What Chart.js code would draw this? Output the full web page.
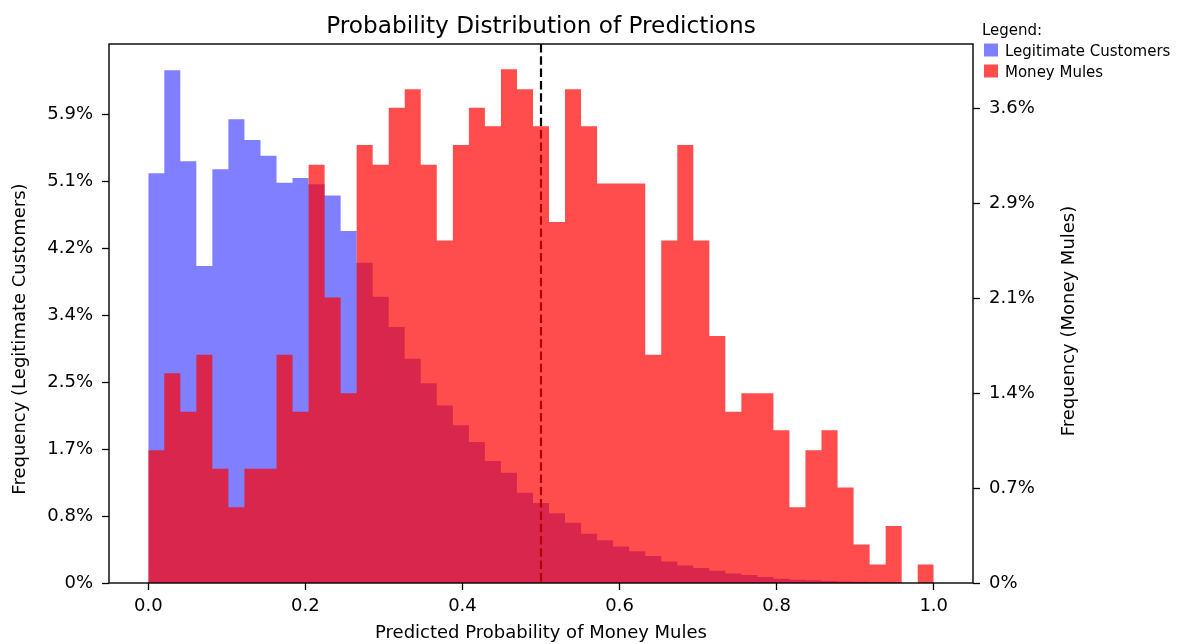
<!DOCTYPE html>
<html>
<head>
<meta charset="utf-8">
<title>Probability Distribution of Predictions</title>
<script src="https://cdn.jsdelivr.net/npm/chart.js@4.4.1/dist/chart.umd.min.js"></script>
<style>
  html, body { margin: 0; padding: 0; background: #fff; }
  #chart { display: block; }
</style>
</head>
<body>
<canvas id="chart" width="1180" height="644"></canvas>
<script>
'use strict';

// Bin edges of the histogram (49 bins between 0 and 1).
var binEdges = [
  0, 0.0204, 0.0408, 0.0612, 0.0816, 0.1020, 0.1224, 0.1429, 0.1633, 0.1837,
  0.2041, 0.2245, 0.2449, 0.2653, 0.2857, 0.3061, 0.3265, 0.3469, 0.3673, 0.3878,
  0.4082, 0.4286, 0.4490, 0.4694, 0.4898, 0.5102, 0.5306, 0.5510, 0.5714, 0.5918,
  0.6122, 0.6327, 0.6531, 0.6735, 0.6939, 0.7143, 0.7347, 0.7551, 0.7755, 0.7959,
  0.8163, 0.8367, 0.8571, 0.8776, 0.8980, 0.9184, 0.9388, 0.9592, 0.9796, 1.0
];

// Share of legitimate customers per bin, in percent (left axis).
var legitimateValues = [
  5.17, 6.47, 5.32, 4.00, 5.22, 5.85, 5.59, 5.39, 5.05, 5.11,
  5.03, 4.89, 4.44, 4.04, 3.61, 3.23, 2.83, 2.52, 2.24, 1.99,
  1.78, 1.54, 1.39, 1.14, 1.01, 0.88, 0.76, 0.62, 0.54, 0.46,
  0.40, 0.34, 0.27, 0.22, 0.19, 0.155, 0.12, 0.10, 0.075, 0.053,
  0.04, 0.035, 0.025, 0.02, 0.015, 0.01, 0.005, 0, 0
];

// Share of money mules per bin, in percent (right axis).
var muleValues = [
  1.00, 1.58, 1.29, 1.72, 0.86, 0.57, 0.86, 0.86, 1.72, 1.29,
  3.15, 2.15, 1.43, 3.30, 3.15, 3.58, 3.72, 3.15, 2.58, 3.30,
  3.58, 3.44, 3.87, 3.72, 3.44, 2.72, 3.72, 3.44, 3.01, 3.01,
  3.01, 1.72, 2.58, 3.30, 2.58, 1.86, 1.29, 1.43, 1.43, 1.15,
  0.57, 1.00, 1.15, 0.72, 0.29, 0.14, 0.43, 0, 0.14
];

var xTicks = [0, 0.2, 0.4, 0.6, 0.8, 1.0];
var legitimateTicks = [0, 0.845, 1.69, 2.535, 3.38, 4.225, 5.07, 5.915];
var legitimateTickLabels = ['0%', '0.8%', '1.7%', '2.5%', '3.4%', '4.2%', '5.1%', '5.9%'];
var muleTicks = [0, 0.715, 1.43, 2.145, 2.86, 3.575];
var muleTickLabels = ['0%', '0.7%', '1.4%', '2.1%', '2.9%', '3.6%'];
var threshold = 0.5;

var FONT = "'DejaVu Sans', sans-serif";
var BLUE = 'rgba(0, 0, 255, 0.5)';
var RED = 'rgba(255, 0, 0, 0.7)';


// One point per bin edge; the closing edge brings the last bin down to zero.
function toSteps(values) {
  return binEdges.map(function(x, i) {
    return {x: x, y: i < values.length ? values[i] : 0};
  });
}

function fixedTicks(values) {
  return function(scale) {
    scale.ticks = values.map(function(v) {
      return {value: v};
    });
  };
}

function axisGrid() {
  return {
    drawOnChartArea: false,
    drawTicks: true,
    tickLength: 7,
    tickWidth: 1.3,
    tickColor: '#000',
    color: '#000'
  };
}

function tickFont() {
  return {family: FONT, size: 18};
}

// Dashed threshold, drawn after the blue bins so the red bins cover it.
var thresholdPlugin = {
  id: 'threshold',
  afterDatasetDraw: function(chart, args) {
    if (args.index !== 0) {
      return;
    }
    var area = chart.chartArea;
    var x = chart.scales.x.getPixelForValue(threshold);
    var ctx = chart.ctx;

    ctx.save();
    ctx.strokeStyle = '#000';
    ctx.lineWidth = 2.2;
    ctx.setLineDash([8.5, 3.8]);
    ctx.beginPath();
    ctx.moveTo(x, area.top);
    ctx.lineTo(x, area.bottom);
    ctx.stroke();
    ctx.restore();
  }
};

var framePlugin = {
  id: 'frame',
  afterDatasetsDraw: function(chart) {
    var area = chart.chartArea;
    var ctx = chart.ctx;

    ctx.save();
    ctx.strokeStyle = '#000';
    ctx.lineWidth = 1.4;
    ctx.strokeRect(area.left, area.top, area.right - area.left, area.bottom - area.top);
    ctx.restore();
  }
};

// Title, axis titles and the legend box at the upper right.
var textPlugin = {
  id: 'texts',
  afterDraw: function(chart) {
    var area = chart.chartArea;
    var ctx = chart.ctx;
    var datasets = chart.data.datasets;

    ctx.save();
    ctx.fillStyle = '#000';
    ctx.textBaseline = 'alphabetic';

    ctx.textAlign = 'center';
    ctx.font = '23.2px ' + FONT;
    ctx.fillText('Probability Distribution of Predictions', (area.left + area.right) / 2, 32.7);

    ctx.font = '18px ' + FONT;
    ctx.fillText('Predicted Probability of Money Mules', (area.left + area.right) / 2, 638);

    ctx.save();
    ctx.translate(25, 339);
    ctx.rotate(-Math.PI / 2);
    ctx.fillText('Frequency (Legitimate Customers)', 0, 0);
    ctx.restore();

    ctx.save();
    ctx.translate(1074, 321);
    ctx.rotate(-Math.PI / 2);
    ctx.fillText('Frequency (Money Mules)', 0, 0);
    ctx.restore();

    ctx.textAlign = 'left';
    ctx.font = '15px ' + FONT;
    ctx.fillText('Legend:', 982, 34.5);

    datasets.forEach(function(dataset, i) {
      var centerY = 50 + i * 21;
      ctx.fillStyle = dataset.backgroundColor;
      ctx.fillRect(984, centerY - 6.5, 14, 13);
      ctx.fillStyle = '#000';
      ctx.fillText(dataset.label, 1005, centerY + 5.5);
    });

    ctx.restore();
  }
};

var chart = new Chart(document.getElementById('chart'), {
  type: 'line',
  data: {
    datasets: [
      {
        label: 'Legitimate Customers',
        data: toSteps(legitimateValues),
        yAxisID: 'y',
        backgroundColor: BLUE,
        borderColor: 'rgba(0, 0, 0, 0)',
        borderWidth: 0,
        stepped: true,
        fill: 'origin',
        pointRadius: 0,
        order: 2
      },
      {
        label: 'Money Mules',
        data: toSteps(muleValues),
        yAxisID: 'y1',
        backgroundColor: RED,
        borderColor: 'rgba(0, 0, 0, 0)',
        borderWidth: 0,
        stepped: true,
        fill: 'origin',
        pointRadius: 0,
        order: 1
      }
    ]
  },
  options: {
    responsive: false,
    animation: false,
    devicePixelRatio: 1,
    layout: {padding: {top: 44, left: 0, right: 0, bottom: 0}},
    plugins: {
      legend: {display: false},
      title: {display: false},
      tooltip: {enabled: false}
    },
    scales: {
      x: {
        type: 'linear',
        min: -0.05,
        max: 1.05,
        afterBuildTicks: fixedTicks(xTicks),
        afterFit: function(scale) {
          scale.height = 61;
        },
        grid: axisGrid(),
        border: {display: false},
        ticks: {
          font: tickFont(),
          color: '#000',
          padding: 6,
          autoSkip: false,
          maxRotation: 0,
          callback: function(value) {
            return value.toFixed(1);
          }
        }
      },
      y: {
        type: 'linear',
        position: 'left',
        min: 0,
        max: 6.80,
        afterBuildTicks: fixedTicks(legitimateTicks),
        afterFit: function(scale) {
          scale.width = 109;
        },
        grid: axisGrid(),
        border: {display: false},
        ticks: {
          font: tickFont(),
          color: '#000',
          padding: 9,
          autoSkip: false,
          callback: function(value, index) {
            return legitimateTickLabels[index];
          }
        }
      },
      y1: {
        type: 'linear',
        position: 'right',
        min: 0,
        max: 4.06,
        afterBuildTicks: fixedTicks(muleTicks),
        afterFit: function(scale) {
          scale.width = 207;
        },
        grid: axisGrid(),
        border: {display: false},
        ticks: {
          font: tickFont(),
          color: '#000',
          padding: 9,
          autoSkip: false,
          callback: function(value, index) {
            return muleTickLabels[index];
          }
        }
      }
    }
  },
  plugins: [thresholdPlugin, framePlugin, textPlugin]
});
</script>
</body>
</html>
